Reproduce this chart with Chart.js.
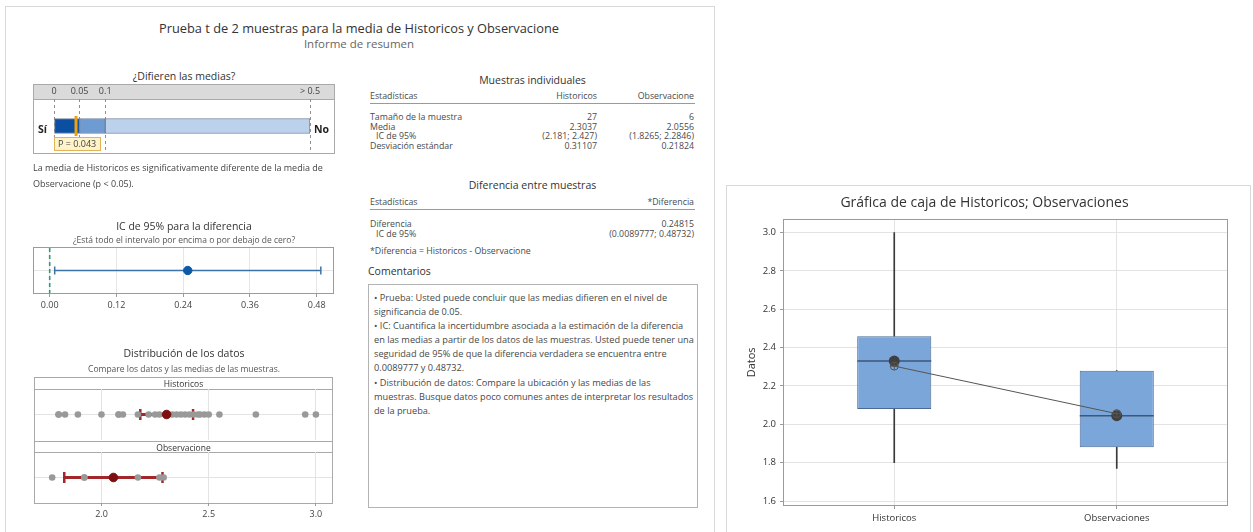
<!DOCTYPE html>
<html lang="es">
<head>
<meta charset="utf-8">
<title>Prueba t de 2 muestras</title>
<script src="https://cdn.jsdelivr.net/npm/chart.js@4.4.1/dist/chart.umd.min.js"></script>
<style>
  html, body { margin: 0; padding: 0; background: #fff; }
  body { width: 1253px; height: 532px; overflow: hidden; position: relative;
         font-family: "Open Sans", "Noto Sans", sans-serif; color: #444; }
  .t { position: absolute; white-space: nowrap; line-height: 14px; }
  .frame { position: absolute; border: 1px solid #d9d9d9; background: #fff; }
  .box { position: absolute; border: 1px solid #a9a9a9; box-sizing: border-box; }
  canvas { position: absolute; }
  .sec { font-size: 10.5px; color: #333; text-align: center; }
  .small { font-size: 8.5px; color: #555; }
  .tbl { font-size: 8.8px; color: #4a4a4a; }
  .rule { position: absolute; height: 0; border-top: 1px solid #9a9a9a; }
  .strip { position: absolute; left: 0; width: 100%; box-sizing: border-box; font-size: 8.5px;
           color: #333; text-align: center; }
  .comments { position: absolute; left: 368px; top: 284px; width: 330px; height: 224px;
              box-sizing: border-box; border: 1px solid #b3b3b3; padding: 6px 0 0 5px;
              font-size: 9.2px; line-height: 14.1px; color: #474747; white-space: nowrap; }
</style>
</head>
<body>

<!-- summary report frame -->
<div class="frame" style="left:5px; top:6px; width:708px; height:540px;"></div>
<div class="t" style="left:5px; width:708px; top:20px; line-height:16px; text-align:center; font-size:12.8px; color:#333;">Prueba t de 2 muestras para la media de Historicos y Observacione</div>
<div class="t" style="left:5px; width:708px; top:37px; text-align:center; font-size:11.5px; color:#666;">Informe de resumen</div>

<!-- ¿Difieren las medias? -->
<div class="t sec" style="left:33px; width:302px; top:69px;">¿Difieren las medias?</div>
<div class="box" style="left:33px; top:84px; width:302px; height:70px;"></div>
<div style="position:absolute; left:34px; top:85px; width:300px; height:14px; background:#dadada; border-bottom:1px solid #a9a9a9;"></div>
<canvas id="pChart" width="302" height="69" style="left:33px; top:84px;"></canvas>
<div class="t" style="left:38px; top:122px; font-size:10.5px; font-weight:bold; color:#222;">Sí</div>
<div class="t" style="left:314px; top:122px; font-size:10.5px; font-weight:bold; color:#222;">No</div>
<div class="t" style="left:54px; top:137px; height:12px; line-height:12px; padding:0 4px 0 3px; font-size:9px; color:#444; background:#fff3c9; border:1px solid #e2b457;">P = 0.043</div>
<div class="t" style="left:33px; top:161px; font-size:9px; color:#444;">La media de Historicos es significativamente diferente de la media de</div>
<div class="t" style="left:33px; top:177px; font-size:9px; color:#444;">Observacione (p &lt; 0.05).</div>

<!-- IC de 95% para la diferencia -->
<div class="t sec" style="left:33px; width:302px; top:219px;">IC de 95% para la diferencia</div>
<div class="t small" style="left:33px; width:302px; top:233px; text-align:center;">¿Está todo el intervalo por encima o por debajo de cero?</div>
<canvas id="ciChart" width="301" height="66" style="left:33px; top:247px;"></canvas>

<!-- Distribución de los datos -->
<div class="t sec" style="left:33px; width:302px; top:346px;">Distribución de los datos</div>
<div class="t small" style="left:33px; width:302px; top:362px; text-align:center;">Compare los datos y las medias de las muestras.</div>
<div class="box" style="left:34px; top:377px; width:299px; height:127px;">
  <div class="strip" style="top:0; height:12px; line-height:11px; border-bottom:1px solid #a9a9a9;">Historicos</div>
  <div class="strip" style="top:63px; height:12px; line-height:11px; border-top:1px solid #a9a9a9; border-bottom:1px solid #a9a9a9;">Observacione</div>
</div>
<canvas id="histChart" width="297" height="51" style="left:35px; top:389px;"></canvas>
<canvas id="obsChart" width="297" height="68" style="left:35px; top:452px;"></canvas>

<!-- Muestras individuales -->
<div class="t sec" style="left:370px; width:325px; top:73px;">Muestras individuales</div>
<div class="t tbl" style="left:370px; top:89px;">Estadísticas</div>
<div class="t tbl" style="right:656px; top:89px;">Historicos</div>
<div class="t tbl" style="right:559px; top:89px;">Observacione</div>
<div class="rule" style="left:370px; width:325px; top:103px;"></div>
<div class="t tbl" style="left:370px; top:110px;">Tamaño de la muestra</div>
<div class="t tbl" style="right:656px; top:110px;">27</div>
<div class="t tbl" style="right:559px; top:110px;">6</div>
<div class="t tbl" style="left:370px; top:120px;">Media</div>
<div class="t tbl" style="right:656px; top:120px;">2.3037</div>
<div class="t tbl" style="right:559px; top:120px;">2.0556</div>
<div class="t tbl" style="left:376px; top:129px;">IC de 95%</div>
<div class="t tbl" style="right:656px; top:129px;">(2.181; 2.427)</div>
<div class="t tbl" style="right:559px; top:129px;">(1.8265; 2.2846)</div>
<div class="t tbl" style="left:370px; top:139px;">Desviación estándar</div>
<div class="t tbl" style="right:656px; top:139px;">0.31107</div>
<div class="t tbl" style="right:559px; top:139px;">0.21824</div>

<!-- Diferencia entre muestras -->
<div class="t sec" style="left:370px; width:325px; top:178px;">Diferencia entre muestras</div>
<div class="t tbl" style="left:370px; top:195px;">Estadísticas</div>
<div class="t tbl" style="right:559px; top:195px;">*Diferencia</div>
<div class="rule" style="left:370px; width:325px; top:209px;"></div>
<div class="t tbl" style="left:370px; top:217px;">Diferencia</div>
<div class="t tbl" style="right:559px; top:217px;">0.24815</div>
<div class="t tbl" style="left:376px; top:227px;">IC de 95%</div>
<div class="t tbl" style="right:559px; top:227px;">(0.0089777; 0.48732)</div>
<div class="t tbl" style="left:370px; top:244px;">*Diferencia = Historicos - Observacione</div>

<!-- Comentarios -->
<div class="t" style="left:368px; top:264px; font-size:10.5px; color:#333;">Comentarios</div>
<div class="comments">• Prueba: Usted puede concluir que las medias difieren en el nivel de<br>significancia de 0.05.<br>• IC: Cuantifica la incertidumbre asociada a la estimación de la diferencia<br>en las medias a partir de los datos de las muestras. Usted puede tener una<br>seguridad de 95% de que la diferencia verdadera se encuentra entre<br>0.0089777 y 0.48732.<br>• Distribución de datos: Compare la ubicación y las medias de las<br>muestras. Busque datos poco comunes antes de interpretar los resultados<br>de la prueba.</div>

<!-- box plot frame -->
<div class="frame" style="left:726px; top:185px; width:523px; height:360px;"></div>
<canvas id="boxChart" width="521" height="346" style="left:727px; top:186px;"></canvas>

<script>
// ---------- values ----------
const pValue = 0.043;
const pBandEdges = [0, 0.05, 0.1, 0.5];
const pTicks = [0, 0.05, 0.1, 0.5];

const diffEstimate = 0.24815;
const diffCI = [0.0089777, 0.48732];
const diffTicks = [0, 0.12, 0.24, 0.36, 0.48];

const historicos = [1.80, 1.80, 1.83, 1.89, 2.00, 2.08, 2.08, 2.10, 2.17, 2.22, 2.25, 2.27, 2.30, 2.33,
                    2.35, 2.37, 2.39, 2.41, 2.43, 2.45, 2.46, 2.48, 2.50, 2.55, 2.72, 2.95, 3.00];
const observacione = [1.77, 1.92, 1.92, 2.17, 2.27, 2.29];
const sampleMeans = [2.3037, 2.0556];
const sampleCI = [[2.181, 2.427], [1.8265, 2.2846]];
const distTicks = [2.0, 2.5, 3.0];

const boxCategories = ['Historicos', 'Observaciones'];
const boxQ1 = [2.08, 1.88];
const boxMedian = [2.33, 2.045];
const boxQ3 = [2.46, 2.28];
const whiskerLow = [1.80, 1.77];
const whiskerHigh = [3.00, 2.28];
const boxMeans = [2.3037, 2.0556];
const boxTicks = [1.6, 1.8, 2.0, 2.2, 2.4, 2.6, 2.8, 3.0];

// ---------- shared helpers ----------
const FONT = '"Open Sans", "Noto Sans", sans-serif';
const baseOpts = { responsive: false, animation: false, events: [],
  plugins: { legend: { display: false }, tooltip: { enabled: false } } };
const fixedTicks = arr => scale => { scale.ticks = arr.map(v => ({ value: v })); };
// pin an axis to an exact thickness and stop its labels from shrinking the plot area
const fitX = h => s => { s.height = h; s.paddingLeft = 0; s.paddingRight = 0; };
const fitY = w => s => { s.width = w; s.paddingTop = 0; s.paddingBottom = 0; };

// outline around the plotting area
const frame = {
  id: 'frame',
  afterDraw(chart, args, opts) {
    const { ctx, chartArea: a } = chart;
    ctx.save();
    ctx.strokeStyle = opts.color || '#9b9b9b';
    ctx.lineWidth = 1;
    ctx.strokeRect(Math.round(a.left) + 0.5, Math.round(a.top) + 0.5,
                   Math.round(a.right - a.left) - 1, Math.round(a.bottom - a.top) - 1);
    ctx.restore();
  }
};

// orange marker at the p-value
const pMark = {
  id: 'pMark',
  afterDatasetsDraw(chart) {
    const x = chart.scales.x.getPixelForValue(pValue);
    const bar = chart.getDatasetMeta(0).data[0];
    const { ctx } = chart;
    ctx.save();
    ctx.strokeStyle = '#f0a20c';
    ctx.lineWidth = 3;
    ctx.beginPath();
    ctx.moveTo(x, bar.y - 10);
    ctx.lineTo(x, bar.y + 10);
    ctx.stroke();
    ctx.restore();
  }
};

// ---------- p-value band ----------
const bandColors = ['#0b4fa3', '#6f9bd3', '#bcd1ec'];
new Chart(document.getElementById('pChart'), {
  type: 'bar',
  data: {
    labels: ['p'],
    datasets: bandColors.map((c, i) => ({
      data: [[pBandEdges[i], pBandEdges[i + 1]]],
      backgroundColor: c, borderColor: '#71819a', borderWidth: 1, borderSkipped: false,
      barThickness: 15, grouped: false
    }))
  },
  options: Object.assign({}, baseOpts, {
    indexAxis: 'y',
    layout: { autoPadding: false, padding: { left: 21, right: 25, top: 0, bottom: 0 } },
    scales: {
      x: {
        type: 'linear', position: 'top', min: 0, max: 0.5,
        afterBuildTicks: fixedTicks(pTicks),
        afterFit: fitX(15),
        ticks: { padding: 2, color: '#444', font: { family: FONT, size: 9 },
                 callback: v => (v === 0.5 ? '> 0.5' : String(v)) },
        grid: { color: '#8f8f8f', drawTicks: false },
        border: { display: false, dash: [3, 3] }
      },
      y: { display: false }
    }
  }),
  plugins: [pMark]
});

// ---------- CI for the difference ----------
new Chart(document.getElementById('ciChart'), {
  type: 'scatter',
  data: {
    datasets: [
      { data: [{ x: diffEstimate, y: 0 }], pointRadius: 4.2, backgroundColor: '#0b59a8', borderColor: '#0b59a8' },
      { data: diffCI.map(v => ({ x: v, y: 0 })), showLine: true, borderColor: '#3c72a8', borderWidth: 1.5,
        pointStyle: 'line', pointRotation: 90, pointRadius: 4, pointBorderColor: '#3c72a8', pointBorderWidth: 1.5 },
      { data: [{ x: 0, y: -1 }, { x: 0, y: 1 }], showLine: true, borderColor: '#2f9a78', borderWidth: 1.6,
        borderDash: [4, 3], pointRadius: 0 }
    ]
  },
  options: Object.assign({}, baseOpts, {
    layout: { autoPadding: false, padding: 0 },
    scales: {
      x: {
        type: 'linear', min: -0.03, max: 0.511,
        afterBuildTicks: fixedTicks(diffTicks),
        afterFit: fitX(19),
        ticks: { padding: 3, color: '#444', font: { family: FONT, size: 9 }, callback: v => v.toFixed(2) },
        grid: { color: '#e6e6e6', tickLength: 3, tickColor: '#9b9b9b' },
        border: { display: false }
      },
      y: {
        min: -1, max: 1,
        afterBuildTicks: fixedTicks([0]),
        afterFit: fitY(0),
        ticks: { display: false },
        grid: { color: '#e6e6e6', drawTicks: false },
        border: { display: false }
      }
    },
    plugins: Object.assign({}, baseOpts.plugins, { frame: { color: '#9b9b9b' } })
  }),
  plugins: [frame]
});

// ---------- data distribution panels ----------
function dotPanel(id, values, mean, ci, showAxis) {
  new Chart(document.getElementById(id), {
    type: 'scatter',
    data: {
      datasets: [
        { data: [{ x: mean, y: 0 }], pointRadius: 4.3, backgroundColor: '#7d0f12', borderColor: '#7d0f12' },
        { data: values.map(v => ({ x: v, y: 0 })), pointRadius: 3.3, backgroundColor: '#999999', borderWidth: 0 },
        { data: ci.map(v => ({ x: v, y: 0 })), showLine: true, borderColor: '#a3262a', borderWidth: 2.8,
          pointStyle: 'line', pointRotation: 90, pointRadius: 5.5, pointBorderColor: '#a3262a', pointBorderWidth: 2.5 }
      ]
    },
    options: Object.assign({}, baseOpts, {
      layout: { autoPadding: false, padding: 0 },
      scales: {
        x: {
          type: 'linear', min: 1.69, max: 3.075,
          afterBuildTicks: fixedTicks(distTicks),
          afterFit: fitX(showAxis ? 17 : 0),
          ticks: { display: showAxis, padding: 3, color: '#444', font: { family: FONT, size: 9 },
                   callback: v => v.toFixed(1) },
          grid: { color: '#e3e3e3', tickLength: showAxis ? 3 : 0, tickColor: '#9b9b9b' },
          border: { display: false }
        },
        y: {
          min: -1, max: 1,
          afterBuildTicks: fixedTicks([0]),
          afterFit: fitY(0),
          ticks: { display: false },
          grid: { color: '#e3e3e3', drawTicks: false },
          border: { display: false }
        }
      }
    })
  });
}
dotPanel('histChart', historicos, sampleMeans[0], sampleCI[0], false);
dotPanel('obsChart', observacione, sampleMeans[1], sampleCI[1], true);

// ---------- box plot ----------
new Chart(document.getElementById('boxChart'), {
  type: 'bar',
  data: {
    labels: boxCategories,
    datasets: [
      { type: 'line', data: boxMeans, order: 0, borderColor: '#555', borderWidth: 1, pointStyle: 'cross',
        pointRadius: 4, pointBorderColor: '#555', pointBorderWidth: 1 },
      { type: 'line', data: boxMeans, order: 1, showLine: false, pointStyle: 'circle', pointRadius: 4,
        pointBackgroundColor: 'rgba(0,0,0,0)', pointBorderColor: '#555', pointBorderWidth: 1 },
      { type: 'line', data: boxMedian, order: 2, showLine: false, pointStyle: 'circle', pointRadius: 5.5,
        pointBackgroundColor: '#3f3f3f', pointBorderColor: '#3f3f3f', pointBorderWidth: 0 },
      { type: 'line', data: boxMedian, order: 3, showLine: false, pointStyle: 'line', pointRadius: 37,
        pointBorderColor: '#3d5679', pointBorderWidth: 1.5 },
      { data: boxQ1.map((q, i) => [q, boxQ3[i]]), order: 4, grouped: false, backgroundColor: '#7ba6da',
        borderColor: '#4a6a93', borderWidth: 1, borderSkipped: false, barPercentage: 0.333, categoryPercentage: 1 },
      { data: whiskerLow.map((w, i) => [w, boxQ1[i]]), order: 5, grouped: false, backgroundColor: '#3a3a3a',
        barThickness: 1 },
      { data: boxQ3.map((q, i) => [q, whiskerHigh[i]]), order: 6, grouped: false, backgroundColor: '#3a3a3a',
        barThickness: 1 }
    ]
  },
  options: Object.assign({}, baseOpts, {
    layout: { autoPadding: false, padding: { left: 14, right: 20, top: 0, bottom: 0 } },
    scales: {
      x: {
        offset: true,
        afterFit: fitX(26),
        ticks: { padding: 4, color: '#333', font: { family: FONT, size: 9.5 } },
        grid: { offset: false, color: '#e3e3e3', tickLength: 3, tickColor: '#9b9b9b' },
        border: { display: false }
      },
      y: {
        min: 1.574, max: 3.072,
        afterBuildTicks: fixedTicks(boxTicks),
        afterFit: fitY(42),
        ticks: { padding: 4, color: '#333', font: { family: FONT, size: 9.5 }, callback: v => v.toFixed(1) },
        grid: { color: '#e3e3e3', tickLength: 3, tickColor: '#9b9b9b' },
        border: { display: false },
        title: { display: true, text: 'Datos', color: '#333', font: { family: FONT, size: 11 }, padding: { top: 4, bottom: 0 } }
      }
    },
    plugins: Object.assign({}, baseOpts.plugins, {
      title: { display: true, text: 'Gráfica de caja de Historicos; Observaciones', color: '#333',
               font: { family: FONT, size: 14, weight: 'normal' }, padding: { top: 9, bottom: 7 } },
      frame: { color: '#9b9b9b' }
    })
  }),
  plugins: [frame]
});
</script>
</body>
</html>
